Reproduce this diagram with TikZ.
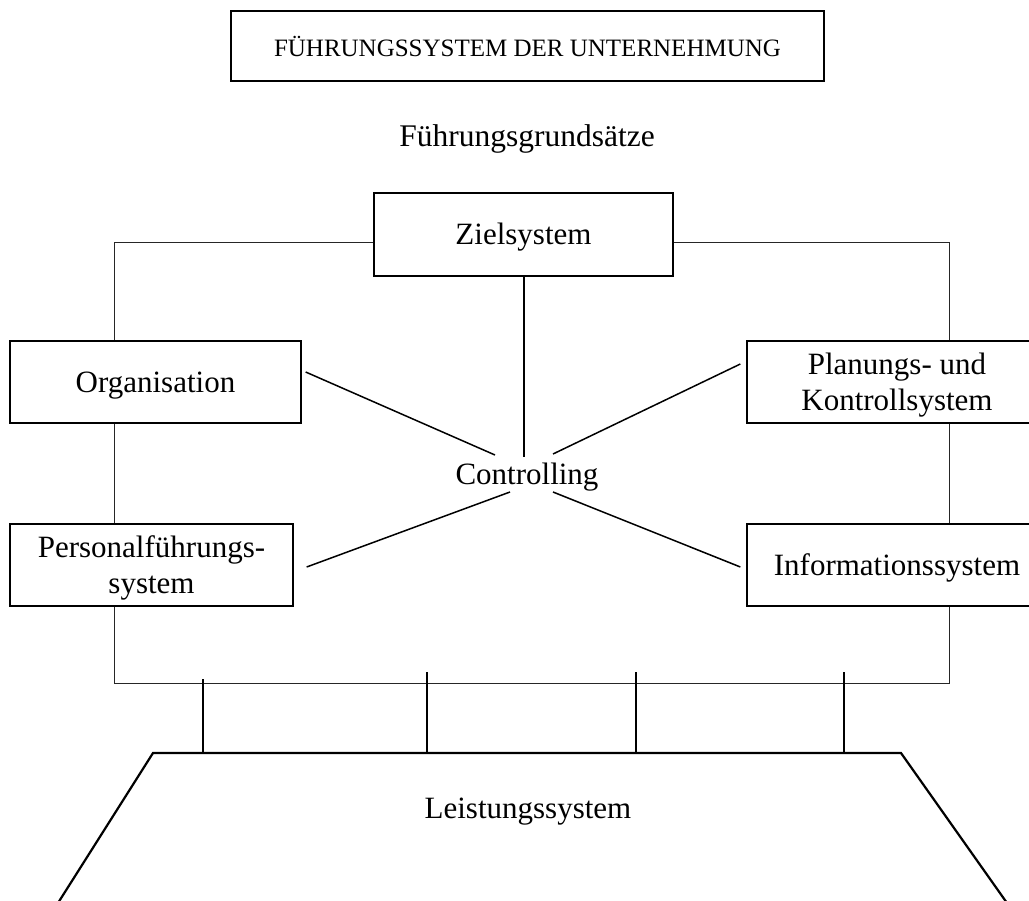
\documentclass[tikz,border=0pt]{standalone}
\usepackage{fontspec}
\setmainfont{Liberation Serif}
\begin{document}
\begin{tikzpicture}[x=1pt,y=-1pt,
  box/.style={draw, line width=1.3pt, inner sep=0pt, align=center, text height=21pt, text depth=0pt, font=\fontsize{31}{36}\selectfont},
  twoline/.style={text height=57pt},
  conn/.style={line width=1pt, draw=black!85},
  spoke/.style={line width=1.5pt},
  lab/.style={inner sep=0pt, text height=21pt, text depth=0pt, font=\fontsize{31}{36}\selectfont},
  base/.style={line width=2.2pt},
  tick/.style={line width=1.4pt}]
\useasboundingbox (0,0) rectangle (1029,901);
\clip (0,0) rectangle (1029,901);
% title
\node[draw, line width=2pt, minimum width=593pt, minimum height=70pt, inner sep=0pt,
      text height=22pt, text depth=0pt,
      font=\fontsize{25}{30}\selectfont] (title) at (527.5,46) {FÜHRUNGSSYSTEM DER UNTERNEHMUNG};
\node[lab, font=\fontsize{31.5}{36}\selectfont] (grund) at (527,136.5) {Führungsgrundsätze};
% boxes
\node[box, minimum width=299pt, minimum height=83pt] (zs) at (523.5,234.5) {Zielsystem};
\node[box, minimum width=291pt, minimum height=82pt] (org) at (155.5,382) {Organisation};
\node[box, twoline, minimum width=283pt, minimum height=82pt] (pers) at (151.5,565) {Personalführungs-\\system};
\node[box, twoline, minimum width=300pt, minimum height=82pt] (plk) at (897,382) {Planungs- und\\Kontrollsystem};
\node[box, minimum width=300pt, minimum height=82pt] (info) at (897,565) {Informationssystem};
\node[lab] (ctrl) at (527,474.5) {Controlling};
\node[lab] (leist) at (528,807.5) {Leistungssystem};
% frame connectors
\draw[conn] ([yshift=-8.5pt]zs.west) -| ([xshift=-41.5pt]org.north);
\draw[conn] ([yshift=-8.5pt]zs.east) -| ([xshift=52pt]plk.north);
\draw[conn] ([xshift=-41.5pt]org.south) -- ([xshift=-41.5pt]org.south |- pers.north);
\draw[conn] ([xshift=52pt]plk.south) -- ([xshift=52pt]plk.south |- info.north);
\coordinate (bl) at (114,683);
\coordinate (br) at (949,683);
\draw[conn] ([xshift=-41.5pt]org.south |- pers.south) -- (bl) -- (br) -- ([xshift=52pt]plk.south |- info.south);
% spokes to Controlling
\coordinate (c0) at (524,457);
\coordinate (c1) at (495,455);
\coordinate (c2) at (553,454);
\coordinate (c3) at (510,492);
\coordinate (c4) at (553,492);
\draw[spoke] ([xshift=0.5pt]zs.south) -- (c0);
\draw[spoke] ([xshift=4pt,yshift=10pt]org.east) -- (c1);
\draw[spoke] ([xshift=-6pt,yshift=18pt]plk.west) -- (c2);
\draw[spoke] ([xshift=13pt,yshift=-2pt]pers.east) -- (c3);
\draw[spoke] ([xshift=-6pt,yshift=-2pt]info.west) -- (c4);
% Leistungssystem
\coordinate (l1) at (153,753);
\coordinate (l2) at (901,753);
\coordinate (l0) at (58,903);
\coordinate (l3) at (1007,903);
\draw[base] (l0) -- (l1) -- (l2) -- (l3);
\coordinate (t1) at (203,679);
\coordinate (t2) at (427,672);
\coordinate (t3) at (636,672);
\coordinate (t4) at (844,672);
\foreach \t in {t1,t2,t3,t4} \draw[tick] (\t) -- (\t |- l1);
\end{tikzpicture}
\end{document}
